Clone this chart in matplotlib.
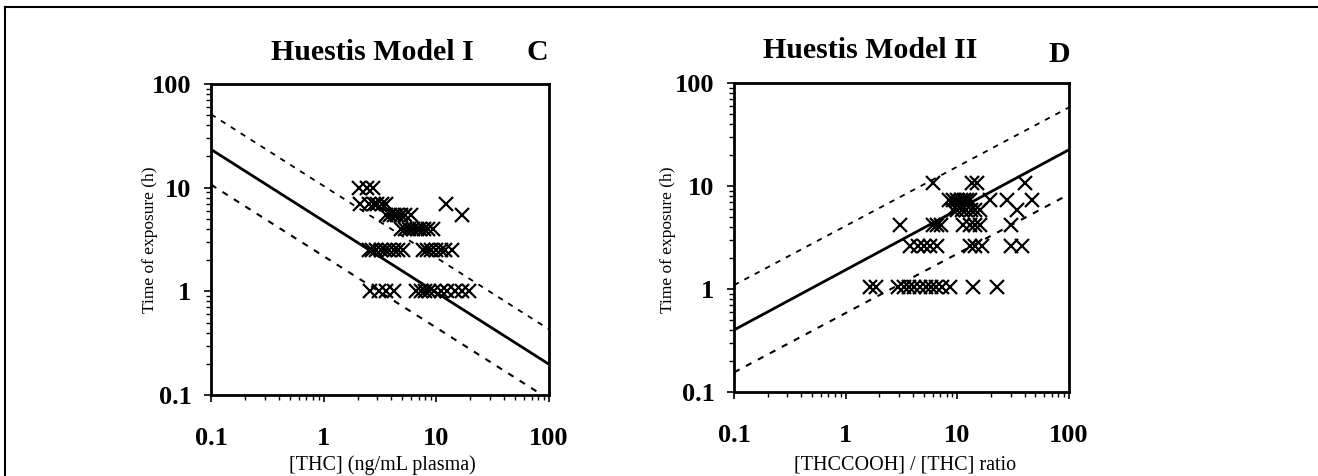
import matplotlib
matplotlib.use("Agg")
from matplotlib import pyplot as plt
from matplotlib.ticker import FixedLocator, LogLocator, NullFormatter
import numpy as np

plt.rcParams['font.family'] = ['Liberation Serif', 'DejaVu Serif']

W, H = 1318, 476

# Panel C: Huestis Model I -- time vs [THC]
thc_x = [2.05, 2.4, 2.75,
         2.1, 2.5, 2.8, 3.0, 3.3, 3.6, 12.3,
         3.6, 3.9, 4.2, 4.5, 4.9, 5.3, 5.9, 16.8,
         4.9, 5.3, 5.7, 6.2, 6.7, 7.2, 7.8, 8.5, 9.3,
         2.5, 2.7, 2.9, 3.2, 3.5, 3.8, 4.2, 4.6, 5.1,
         7.6, 8.3, 9.0, 10.0, 11.0, 12.0, 13.9,
         2.6, 3.1, 3.6, 4.2,
         6.6, 7.3, 8.0, 8.6, 9.5, 11.0, 12.5, 14.5, 17.0, 19.6]
thc_t = [10, 10, 10,
         7, 7, 7, 7, 7, 7, 7,
         5.5, 5.5, 5.5, 5.5, 5.5, 5.5, 5.5, 5.5,
         4, 4, 4, 4, 4, 4, 4, 4, 4,
         2.5, 2.5, 2.5, 2.5, 2.5, 2.5, 2.5, 2.5, 2.5,
         2.5, 2.5, 2.5, 2.5, 2.5, 2.5, 2.5,
         1, 1, 1, 1,
         1, 1, 1, 1, 1, 1, 1, 1, 1, 1]
# model lines (end points at x = 0.1 and x = 100)
c_line_x = [0.1, 100]
c_fit = [23.4, 0.198]
c_upper = [51, 0.43]
c_lower = [10.7, 0.091]

# Panel D: Huestis Model II -- time vs [THCCOOH]/[THC]
ratio_x = [6.0, 13.5, 15.0, 40,
           8.5, 9.2, 10.0, 10.8, 11.5, 12.3, 13.1, 19.6, 27.7, 46.5,
           9.1, 10.0, 11.0, 12.0, 13.2, 14.5, 15.9, 34,
           3.06, 6.0, 6.6, 7.2, 11.2, 13.0, 14.5, 15.9, 30.5,
           3.8, 4.4, 5.0, 5.7, 6.6, 13, 14.5, 16.5, 30.5, 38,
           1.65, 1.85, 2.95, 3.3, 3.7, 4.1, 4.6, 5.2, 5.8, 6.5, 7.3, 8.6, 13.9, 22.5]
ratio_t = [10.7, 10.7, 10.7, 10.7,
           7.3, 7.3, 7.3, 7.3, 7.3, 7.3, 7.3, 7.3, 7.3, 7.3,
           5.8, 5.8, 5.8, 5.8, 5.8, 5.8, 5.8, 5.8,
           4.2, 4.2, 4.2, 4.2, 4.2, 4.2, 4.2, 4.2, 4.2,
           2.6, 2.6, 2.6, 2.6, 2.6, 2.6, 2.6, 2.6, 2.6, 2.6,
           1.05, 1.05, 1.05, 1.05, 1.05, 1.05, 1.05, 1.05, 1.05, 1.05, 1.05, 1.05, 1.05, 1.05]
d_line_x = [0.1, 100]
d_fit = [0.40, 22.5]
d_upper = [1.09, 58]
d_lower = [0.155, 8.3]

tick_vals = [0.1, 1, 10, 100]
tick_labels = ["0.1", "1", "10", "100"]

fig = plt.figure(figsize=(W / 100, H / 100), dpi=100)


def px_axes(left, top, right, bottom):
    return fig.add_axes([left / W, 1 - bottom / H, (right - left) / W, (bottom - top) / H])


def setup(ax):
    ax.set_xscale("log")
    ax.set_yscale("log")
    ax.set_xlim(0.1, 100)
    ax.set_ylim(0.1, 100)
    for s in ax.spines.values():
        s.set_linewidth(2.0)
    ax.xaxis.set_major_locator(FixedLocator(tick_vals))
    ax.yaxis.set_major_locator(FixedLocator(tick_vals))
    ax.set_xticklabels(tick_labels, fontsize=19, fontweight="bold")
    ax.set_yticklabels(tick_labels, fontsize=19, fontweight="bold")
    ax.xaxis.set_minor_locator(LogLocator(base=10, subs=np.arange(2, 10)))
    ax.yaxis.set_minor_locator(LogLocator(base=10, subs=np.arange(2, 10)))
    ax.xaxis.set_minor_formatter(NullFormatter())
    ax.yaxis.set_minor_formatter(NullFormatter())
    ax.tick_params(axis="x", which="major", direction="out", length=5, width=1.2, pad=18)
    ax.tick_params(axis="y", which="major", direction="out", length=5, width=1.2, pad=9)
    ax.tick_params(which="minor", direction="out", length=3.5, width=1)


def dashed(ax, x, y, lw):
    ax.plot(x, y, color="black", lw=lw, linestyle=(0, (3, 3.5)))


axC = px_axes(211, 84, 549, 395)
setup(axC)
axC.plot(c_line_x, c_fit, color="black", lw=2)
dashed(axC, c_line_x, c_upper, 1.3)
dashed(axC, c_line_x, c_lower, 1.5)
axC.plot(thc_x, thc_t, linestyle="none", marker="x", ms=10, mew=1.6, color="black")

axD = px_axes(734, 83, 1069, 392)
setup(axD)
axD.plot(d_line_x, d_fit, color="black", lw=2)
dashed(axD, d_line_x, d_upper, 1.3)
dashed(axD, d_line_x, d_lower, 1.5)
axD.plot(ratio_x, ratio_t, linestyle="none", marker="x", ms=10, mew=1.6, color="black")


def ftext(x, y, s, **kw):
    fig.text(x / W, 1 - y / H, s, **kw)


ftext(372, 52, "Huestis Model I", fontsize=21.5, fontweight="bold", ha="center", va="center")
ftext(537, 53, "C", fontsize=21.5, fontweight="bold", ha="center", va="center")
ftext(870, 50, "Huestis Model II", fontsize=21.5, fontweight="bold", ha="center", va="center")
ftext(1059, 54, "D", fontsize=21.5, fontweight="bold", ha="center", va="center")

ftext(382, 465, "[THC] (ng/mL plasma)", fontsize=14.5, ha="center", va="center")
ftext(905, 465, "[THCCOOH] / [THC] ratio", fontsize=14.5, ha="center", va="center")
ftext(150, 240, "Time of exposure (h)", fontsize=12.5, rotation=90, ha="center", va="center")
ftext(668, 240, "Time of exposure (h)", fontsize=12.5, rotation=90, ha="center", va="center")

# thin frame round the whole figure
fig.add_artist(plt.Line2D([5 / W, 5 / W], [0, 1 - 7 / H], color="black", lw=1.5))
fig.add_artist(plt.Line2D([5 / W, 1], [1 - 7 / H, 1 - 7 / H], color="black", lw=1.5))

fig.savefig("out.png", dpi=100)
